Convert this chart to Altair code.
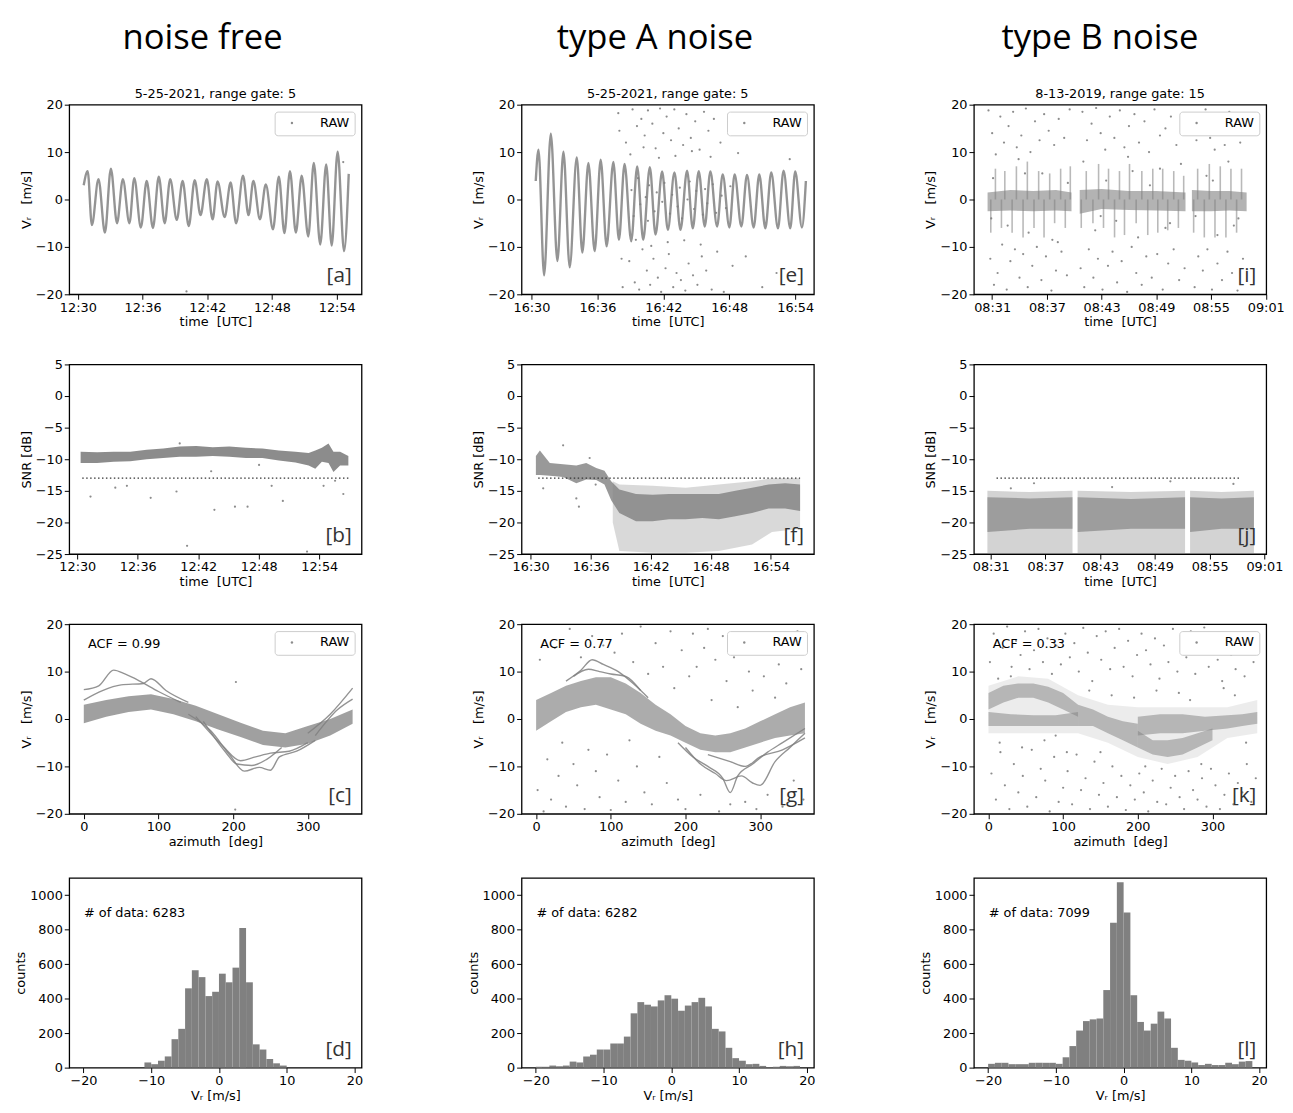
import altair as alt
import pandas as pd

W, H = 296, 192
GRAY = "#808080"

col_titles = ["noise free", "type A noise", "type B noise"]
col_title_dx = [14, 14, -2]
panel_titles = ["5-25-2021, range gate: 5", "5-25-2021, range gate: 5", "8-13-2019, range gate: 15"]
acf_labels = ["ACF = 0.99", "ACF = 0.77", "ACF = 0.33"]
ndata_labels = ["# of data: 6283", "# of data: 6282", "# of data: 7099"]
tags = [["[a]", "[b]", "[c]", "[d]"], ["[e]", "[f]", "[g]", "[h]"], ["[i]", "[j]", "[k]", "[l]"]]

time_ticks = [[30, 36, 42, 48, 54], [30, 36, 42, 48, 54], [31, 37, 43, 49, 55, 61]]
time_expr = ["'12:' + datum.value", "'16:' + datum.value",
             "datum.value < 60 ? '08:' + datum.value : '09:0' + (datum.value - 60)"]
vr_dom = [[29.2, 56.3], [29.1, 55.7], [29.0, 61.05]]
snr_dom = [[29.2, 58.2], [29.1, 58.3], [29.15, 61.2]]
az_dom = [-19.5, 372]
hist_dom = [-22.1, 21.05]
vr_ticks = [-20, -10, 0, 10, 20]
snr_ticks = [-25, -20, -15, -10, -5, 0, 5]
az_ticks = [0, 100, 200, 300]
cnt_ticks = [0, 200, 400, 600, 800, 1000]
hist_ticks = [-20, -10, 0, 10, 20]

# ---------------- panel a (Vr, noise free) ----------------
a_t = [30.54, 30.91, 31.30, 31.91, 32.51, 33.06, 33.63, 34.17, 34.78, 35.23, 35.84, 36.38, 36.96, 37.50, 38.05,
       38.56, 39.17, 39.71, 40.28, 40.83, 41.37, 41.95, 42.49, 42.95, 43.61, 44.16, 44.67, 45.31, 45.82, 46.27,
       46.88, 47.42, 48.09, 48.63, 49.15, 49.66, 50.21, 50.75, 51.36, 51.87, 52.47, 53.02, 53.53, 54.08, 54.68, 55.11]
a_v = [3.0, 6.0, -5.4, 4.3, -7.0, 6.5, -5.0, 4.3, -5.0, 4.5, -5.9, 3.9, -6.0, 4.8, -5.0, 4.3, -4.3, 3.9, -5.6, 4.1,
       -3.3, 4.3, -4.2, 3.8, -3.7, 3.6, -5.0, 5.0, -3.3, 3.9, -4.2, 3.2, -6.3, 4.8, -7.1, 6.0, -7.0, 5.0, -7.8, 7.7,
       -9.5, 7.4, -9.7, 10.1, -10.9, 5.4]
a_out_t = [40.07, 54.6]
a_out_v = [-19.4, 7.9]

# ---------------- panel e (Vr, type A) ----------------
e_t = [30.39, 30.64, 31.15, 31.76, 32.36, 32.91, 33.48, 34.12, 34.63, 35.18, 35.75, 36.30, 36.84, 37.45, 37.96,
       38.47, 39.08, 39.62, 40.17, 40.77, 41.29, 41.89, 42.41, 43.01, 43.56, 44.16, 44.68, 45.22, 45.77, 46.28,
       46.89, 47.40, 48.01, 48.49, 49.10, 49.61, 50.22, 50.73, 51.28, 51.82, 52.43, 52.94, 53.55, 54.00, 54.61, 54.97]
e_v = [3.9, 10.5, -16.0, 13.9, -13.0, 10.1, -14.3, 8.9, -11.2, 7.7, -10.9, 8.4, -9.9, 7.9, -8.5, 7.5, -8.8, 7.0,
       -8.5, 6.8, -7.4, 5.9, -6.4, 5.7, -6.4, 6.1, -6.1, 6.0, -5.7, 5.9, -5.7, 5.3, -5.9, 5.3, -5.7, 5.2, -5.9, 5.3,
       -6.1, 5.7, -6.1, 6.1, -6.1, 5.9, -5.9, 3.9]
e_out_t = [37.9, 38.3, 38.6, 38.9, 39.2, 39.4, 39.6, 39.8, 40.0, 40.1, 40.3, 40.5, 40.6, 40.8, 41.0, 41.1, 41.3,
           41.5, 41.7, 41.8, 42.0, 42.2, 42.3, 42.5, 42.7, 42.9, 43.0, 43.2, 43.4, 43.6, 43.8, 44.0, 44.1, 44.3,
           44.5, 44.7, 44.9, 45.1, 45.3, 45.5, 45.7, 45.9, 46.1, 46.4, 46.6, 46.9, 47.2, 47.5, 47.9, 48.3, 48.8,
           49.5, 50.4, 51.0, 52.3, 53.5, 39.0, 39.5, 40.2, 40.9, 41.6, 42.4, 43.1, 43.9, 44.6, 45.4, 46.3, 38.2,
           38.0, 39.1, 39.3, 39.7, 39.9, 40.4, 40.6, 40.7, 41.2, 41.4, 41.9, 42.1, 42.6, 42.8, 43.3, 43.5, 43.7,
           44.2, 44.4, 44.8, 45.0, 45.6, 45.8, 46.0, 46.5, 46.8, 47.3, 47.7, 48.1]
e_out_v = [18.2, -18.5, 12.0, -13.0, 19.0, -17.5, 15.5, -19.0, 17.0, -10.5, 13.5, -15.0, 18.8, -18.0, 16.0, -12.5,
           10.8, -16.5, 19.2, -19.5, 14.0, -14.5, 17.5, -11.5, 12.5, -18.5, 19.0, -15.5, 15.0, -17.0, 11.5, -19.2,
           18.0, -13.5, 13.0, -16.0, 16.5, -18.0, 10.5, -12.0, 18.5, -15.0, 14.5, -19.0, 17.0, -11.0, 12.0, -19.5,
           16.5, -14.0, 9.8, -12.0, 14.0, -18.5, -15.5, 8.5, 9.5, -8.5, 11.0, -9.8, 8.8, -9.0, 9.2, -8.6, 10.2,
           -9.5, 9.0, -12.5, 14.5, 2.0, -3.5, 4.5, -1.0, 0.5, -4.5, 3.0, -2.5, 1.5, -0.5, 3.5, -3.0, 1.0, -1.5,
           2.5, -4.0, 0.0, 3.8, -2.0, 1.8, -3.2, 2.2, -0.8, 3.2, -2.8, 0.8, -1.8, 2.8]

# ---------------- panel i (Vr, type B) ----------------
i_band_t = [30.5, 33.0, 35.5, 38.0, 39.7, 40.6, 43.0, 46.0, 49.0, 52.2, 52.9, 55.0, 57.0, 58.9]
i_band_seg = ["1", "1", "1", "1", "1", "2", "2", "2", "2", "2", "3", "3", "3", "3"]
i_band_lo = [-2.5, -2.3, -2.5, -2.3, -2.5, -3.0, -2.0, -2.2, -2.3, -2.5, -2.5, -2.5, -2.3, -2.5]
i_band_hi = [1.5, 2.0, 1.8, 2.0, 1.5, 2.0, 2.2, 1.8, 1.8, 1.5, 2.0, 1.8, 1.8, 1.5]
i_spike_t = [31.36, 32.39, 33.66, 34.86, 36.10, 37.31, 38.51, 39.57, 30.85, 32.02, 33.19, 34.39, 35.59, 36.69,
             37.85, 39.02, 41.32, 42.67, 43.76, 44.96, 46.06, 47.41, 48.61, 49.70, 50.91, 52.00, 40.77, 42.05,
             43.21, 44.42, 45.51, 46.79, 48.06, 49.16, 50.25, 51.42, 53.53, 54.81, 56.01, 57.18, 58.34, 53.09,
             54.26, 55.43, 56.63, 57.80]
i_spike_v = [6.5, 6.0, 7.0, 8.0, 6.0, 5.5, 6.5, 7.0, -7.0, -6.0, -7.0, -8.0, -6.0, -8.0, -5.0, -6.0, 6.0, 7.5, 6.5,
             6.0, 7.5, 6.0, 6.5, 6.5, 6.0, 5.0, -6.0, -5.0, -6.0, -8.0, -7.5, -5.0, -7.5, -7.0, -6.5, -6.0, 6.5,
             7.5, 7.0, 6.5, 6.5, -7.0, -8.0, -8.0, -8.0, -7.0]
i_out_t = [30.6, 30.8, 31.0, 31.2, 31.4, 31.6, 31.9, 32.1, 32.3, 32.6, 32.8, 33.0, 33.3, 33.5, 33.7, 34.0, 34.2,
           34.4, 34.7, 34.9, 35.2, 35.4, 35.7, 35.9, 36.2, 36.4, 36.7, 36.9, 37.2, 37.5, 37.8, 38.0, 38.3, 38.6,
           38.9, 39.2, 39.5, 40.7, 40.9, 41.1, 41.4, 41.6, 41.9, 42.1, 42.4, 42.6, 42.9, 43.1, 43.4, 43.7, 43.9,
           44.2, 44.4, 44.7, 45.0, 45.2, 45.5, 45.8, 46.0, 46.3, 46.6, 46.8, 47.1, 47.4, 47.7, 47.9, 48.2, 48.5,
           48.8, 49.1, 49.4, 49.7, 50.0, 50.3, 50.6, 50.9, 51.2, 51.5, 51.8, 52.1, 53.0, 53.2, 53.4, 53.6, 53.9,
           54.1, 54.4, 54.6, 54.9, 55.1, 55.4, 55.7, 55.9, 56.2, 56.5, 56.8, 57.0, 57.3, 57.6, 57.9, 58.2, 58.5,
           58.8, 31.1, 32.7, 33.9, 35.0, 36.5, 37.6, 39.3, 41.0, 42.3, 43.5, 44.6, 45.9, 47.0, 48.3, 49.4, 50.5,
           51.7, 53.3, 54.5, 55.7, 56.9, 58.0, 30.9, 34.6, 38.2, 42.9, 46.4, 50.0, 55.2, 57.5]
i_out_v = [18.8, -12.5, 14.0, -18.0, 9.5, -15.5, 17.5, -9.5, 12.0, -19.0, 15.5, -13.0, 18.5, -10.5, 11.0, -16.5,
           13.5, -11.5, 19.2, -18.5, 10.0, -14.0, 16.5, -10.0, 12.5, -17.0, 18.0, -12.0, 14.5, -19.2, 11.5, -15.0,
           17.0, -11.0, 13.0, -16.0, 19.0, -14.5, 18.5, -18.5, 12.5, -10.5, 16.0, -16.5, 19.3, -12.5, 14.0, -19.0,
           10.5, -14.0, 17.5, -11.0, 13.0, -17.5, 18.8, -13.0, 11.0, -19.5, 15.5, -10.0, 18.0, -15.5, 12.0, -18.0,
           16.5, -12.0, 10.0, -16.5, 19.0, -11.5, 13.5, -19.0, 15.0, -13.5, 17.5, -10.5, 11.5, -17.0, 14.0, -14.5,
           17.0, -18.5, 12.5, -12.0, 15.5, -15.0, 19.0, -10.5, 13.0, -19.0, 10.5, -13.5, 16.5, -17.0, 11.5, -11.0,
           18.5, -15.5, 14.0, -19.2, 12.0, -12.5, 15.0, 4.5, -5.5, 8.5, -7.0, 5.5, -8.5, 3.5, 8.0, -6.5, 4.0, -4.5,
           9.0, -8.0, 3.0, 6.5, -5.0, 7.5, -3.5, 5.0, -7.5, 8.0, -4.0, -4.0, 5.5, -9.0, -3.5, 6.0, -6.0, 4.0, -5.5]

# ---------------- SNR panels b, f, j ----------------
b_band_t = [30.33, 31.97, 33.61, 35.25, 36.89, 38.52, 40.16, 41.80, 43.44, 45.08, 46.72, 48.36, 50.00, 51.64,
            52.95, 53.61, 54.26, 54.92, 55.41, 56.07, 56.89]
b_band_lo = [-10.6, -10.6, -10.4, -10.3, -10.0, -9.8, -9.6, -9.6, -9.5, -9.6, -9.8, -9.8, -10.2, -10.5, -11.0,
             -11.5, -10.4, -10.6, -12.0, -11.0, -11.0]
b_band_hi = [-8.8, -8.9, -8.8, -8.8, -8.5, -8.3, -8.0, -7.9, -8.1, -8.0, -8.2, -8.3, -8.6, -8.8, -9.0, -8.6,
             -8.2, -7.5, -8.8, -8.8, -9.5]
b_out_t = [31.31, 33.77, 34.92, 37.28, 39.84, 40.89, 43.28, 43.60, 45.64, 46.89, 48.03, 49.28, 50.39, 52.79,
           56.39, 55.57, 54.43, 40.16]
b_out_v = [-15.9, -14.5, -14.2, -16.1, -15.1, -23.7, -11.9, -18.0, -17.5, -17.5, -10.9, -14.2, -16.6, -24.6,
           -15.5, -13.4, -14.2, -7.5]
b_thr = [30.49, 56.89, -13.0]

f_band_t = [30.53, 30.93, 31.92, 33.25, 34.57, 35.56, 36.56, 37.38, 38.05, 38.87, 40.53, 42.19, 43.84, 45.50,
            47.15, 48.81, 50.46, 52.12, 53.77, 55.43, 56.92]
f_band_lo = [-12.5, -12.5, -12.6, -12.8, -13.8, -13.2, -13.3, -14.0, -16.5, -18.5, -19.8, -19.8, -19.5, -19.5,
             -19.3, -19.5, -19.0, -18.5, -17.8, -17.8, -18.2]
f_band_hi = [-9.5, -8.6, -10.6, -10.8, -11.0, -10.6, -11.4, -11.8, -13.5, -14.8, -15.5, -15.6, -15.5, -15.5,
             -15.5, -15.5, -15.0, -14.5, -14.0, -13.8, -14.0]
f_outer_t = [38.21, 38.87, 42.19, 45.50, 48.81, 52.12, 54.11, 56.92]
f_outer_lo = [-20.0, -24.5, -24.8, -24.8, -24.5, -23.5, -21.5, -21.0]
f_outer_hi = [-13.5, -14.0, -14.2, -14.5, -14.0, -13.5, -13.0, -13.0]
f_out_t = [31.26, 34.57, 34.83, 33.25, 35.9, 36.5]
f_out_v = [-14.6, -16.2, -17.5, -7.8, -9.8, -14.0]
f_thr = [30.76, 56.92, -13.0]

j_band_t = [30.63, 35.3, 39.96, 40.52, 46.4, 52.30, 52.85, 56.3, 59.85]
j_band_seg = ["1", "1", "1", "2", "2", "2", "3", "3", "3"]
j_in_lo = [-21.5, -21.0, -21.0, -21.5, -21.0, -21.0, -21.5, -21.0, -21.0]
j_in_hi = [-16.0, -16.2, -16.0, -16.0, -16.3, -16.0, -16.0, -16.2, -16.0]
j_outer_lo = [-24.9, -24.9, -24.9, -24.9, -24.9, -24.9, -24.9, -24.9, -24.9]
j_outer_hi = [-15.0, -15.2, -15.0, -15.0, -15.2, -15.0, -15.0, -15.2, -15.0]
j_out_t = [35.74, 50.69, 57.6, 44.3, 33.2]
j_out_v = [-13.8, -13.5, -13.9, -14.4, -14.6]
j_thr = [31.63, 58.48, -13.0]

# ---------------- azimuth panels c, g, k ----------------
c_band_az = [0, 30, 60, 90, 120, 150, 180, 210, 240, 270, 300, 330, 360]
c_band_lo = [-0.9, 0.5, 1.5, 2.0, 1.0, -0.5, -2.2, -3.8, -5.5, -6.0, -5.2, -3.5, -1.0]
c_band_hi = [3.0, 4.0, 4.8, 5.2, 4.2, 2.8, 1.0, -0.8, -2.5, -3.0, -1.5, 0.0, 2.0]
c_tr_id = ["1", "1", "1", "1", "1", "1", "1",
           "2", "2", "2", "2", "2", "2", "2",
           "3", "3", "3", "3", "3", "3", "3", "3", "3",
           "4", "4", "4", "4", "4", "4", "4",
           "5", "5", "5", "5", "5", "5",
           "6", "6", "6",
           "7", "7", "7"]
c_tr_az = [0, 20, 40, 55, 75, 100, 130,
           0, 25, 50, 80, 90, 110, 140,
           140, 170, 195, 215, 235, 250, 262, 285, 310,
           150, 185, 210, 230, 250, 275, 300,
           160, 190, 205, 225, 245, 265,
           300, 330, 360,
           310, 340, 360]
c_tr_v = [6.2, 7.0, 10.3, 9.5, 8.0, 5.8, 3.5,
          4.0, 6.0, 7.2, 7.5, 8.5, 6.0, 3.5,
          1.0, -2.5, -7.5, -11.0, -10.2, -10.8, -8.0, -6.8, -4.5,
          0.5, -5.5, -8.8, -8.0, -7.2, -6.8, -5.0,
          -0.5, -7.0, -9.5, -9.8, -8.5, -6.0,
          -3.0, 1.0, 6.5,
          -3.5, 2.0, 4.2]
c_out_az = [203.7, 202.8]
c_out_v = [7.8, -19.1]

g_band_az = [0, 20, 40, 60, 80, 100, 120, 140, 160, 180, 200, 220, 240, 260, 280, 300, 320, 340, 360]
g_band_lo = [-2.5, -0.5, 1.5, 2.5, 3.0, 2.0, 1.0, -1.0, -2.5, -3.5, -5.0, -6.5, -7.0, -7.0, -6.0, -5.0, -4.0,
             -3.5, -3.0]
g_band_hi = [4.0, 5.5, 7.0, 8.0, 8.8, 8.8, 7.5, 5.5, 3.0, 1.0, -1.5, -3.0, -3.5, -3.0, -2.0, -0.5, 1.0, 2.5, 3.5]
g_tr_id = ["1", "1", "1", "1", "1", "1", "1", "1", "1", "1",
           "2", "2", "2", "2", "2", "2", "2", "2", "2", "2",
           "3", "3", "3", "3", "3", "3",
           "4", "4", "4", "4", "4", "4", "4",
           "5", "5", "5", "5", "5", "5"]
g_tr_az = [190, 210, 230, 250, 260, 270, 290, 310, 330, 360,
           200, 220, 240, 255, 275, 290, 300, 320, 340, 360,
           230, 260, 280, 300, 330, 360,
           40, 60, 75, 90, 110, 130, 150,
           50, 70, 85, 100, 120, 140]
g_tr_v = [-5.0, -8.0, -10.0, -12.5, -15.5, -12.0, -9.5, -7.0, -5.0, -2.0,
          -6.0, -9.5, -11.5, -13.0, -12.0, -13.5, -14.0, -9.0, -6.0, -3.0,
          -7.5, -9.0, -10.0, -8.0, -6.5, -4.0,
          8.0, 10.3, 12.5, 11.5, 10.0, 7.5, 4.5,
          9.0, 10.5, 10.0, 9.5, 9.0, 6.0]
g_out_az = [2, 5, 10, 15, 20, 25, 30, 35, 40, 45, 50, 55, 60, 65, 70, 75, 80, 85, 90, 95, 100, 105, 110, 115, 120,
            125, 130, 135, 140, 145, 150, 155, 160, 165, 170, 175, 180, 185, 190, 195, 200, 205, 210, 215, 220,
            225, 230, 235, 240, 245, 250, 255, 260, 265, 270, 275, 280, 285, 290, 295, 300, 305, 310, 315, 320,
            325, 330, 335, 340, 345, 350, 355, 358]
g_out_v = [-15.0, 12.5, -19.5, -8.5, -17.0, 15.0, -12.0, -5.0, -18.5, 19.0, -9.5, -14.0, 13.0, -19.0, -6.5, 17.5,
           -11.0, -16.5, 15.5, -7.5, -19.2, 14.0, -13.0, 18.0, -17.5, -4.5, 12.0, -10.0, 19.5, -15.5, 9.5, -18.0,
           16.0, -8.0, 11.0, -13.5, 18.5, 6.5, -17.0, 14.5, -19.0, 9.0, 18.0, 11.0, -16.0, 15.0, 19.0, 4.0, 12.5,
           -19.5, 17.5, 8.0, -18.0, 13.0, 2.5, 16.5, -17.5, 10.0, 6.0, -19.0, 14.0, 9.0, -16.0, 17.0, 4.5, 11.5,
           -18.5, 7.5, 15.5, -13.0, 18.5, 10.5, -17.0]

k_area_az = [0, 20, 40, 60, 80, 100, 120, 0, 30, 60, 90, 120, 120, 140, 160, 180, 200,
             200, 230, 260, 290, 320, 340, 360, 200, 220, 240, 260, 280, 300]
k_area_seg = ["up", "up", "up", "up", "up", "up", "up", "lo", "lo", "lo", "lo", "lo",
              "mid", "mid", "mid", "mid", "mid", "ru", "ru", "ru", "ru", "ru", "ru", "ru",
              "rl", "rl", "rl", "rl", "rl", "rl"]
k_area_lo = [2.0, 3.5, 4.5, 4.5, 3.5, 2.0, 0.5, -1.5, -1.5, -1.5, -1.5, -1.5, -1.5, -1.5, -3.0, -4.5, -6.0,
             -3.5, -3.0, -3.0, -2.5, -2.0, -1.5, -1.0, -6.0, -7.5, -8.0, -7.5, -6.0, -4.5]
k_area_hi = [5.5, 7.0, 7.5, 7.5, 6.8, 5.5, 3.0, 1.5, 1.0, 0.8, 0.8, 1.5, 3.0, 2.0, 0.5, -0.5, -1.0,
             0.5, 1.0, 1.0, 0.5, 0.8, 1.0, 1.5, -2.5, -4.5, -4.5, -4.0, -3.0, -2.0]
k_halo_az = [0, 40, 80, 120, 160, 200, 240, 280, 320, 360]
k_halo_lo = [-3.0, -3.0, -3.0, -3.0, -5.0, -8.0, -9.5, -8.0, -4.0, -3.0]
k_halo_hi = [7.0, 9.0, 8.5, 5.0, 3.0, 2.5, 2.5, 2.5, 2.5, 4.0]
k_out_az = [2, 4, 7, 10, 13, 16, 19, 22, 25, 28, 31, 34, 37, 40, 43, 46, 49, 52, 55, 58, 61, 64, 67, 70, 73, 76,
            79, 82, 85, 88, 91, 94, 97, 100, 103, 106, 109, 112, 115, 118, 121, 124, 127, 130, 133, 136, 139, 142,
            145, 148, 151, 154, 157, 160, 163, 166, 169, 172, 175, 178, 181, 184, 187, 190, 193, 196, 199, 202,
            205, 208, 211, 214, 217, 220, 223, 226, 229, 232, 235, 238, 241, 244, 247, 250, 253, 256, 259, 262,
            265, 268, 271, 274, 277, 280, 283, 286, 289, 292, 295, 298, 301, 304, 307, 310, 313, 316, 319, 322,
            325, 328, 331, 334, 337, 340, 343, 346, 349, 352, 355, 358,
            15, 45, 75, 105, 135, 165, 195, 225, 255, 285, 315, 345, 30, 90, 150, 210, 270, 330]
k_out_v = [12.0, -11.5, 18.0, -17.0, 8.5, -7.0, 15.0, -14.0, 19.5, -19.0, 11.0, -9.5, 16.5, -15.5, 13.5, -12.0,
           18.5, -18.5, 10.5, -6.5, 14.5, -16.5, 19.0, -10.5, 12.0, -13.0, 17.0, -19.5, 9.5, -8.0, 15.5, -17.5,
           11.5, -14.5, 18.0, -11.0, 13.0, -18.0, 16.0, -7.5, 10.0, -15.0, 19.2, -12.5, 14.0, -19.0, 8.0, -9.0,
           17.5, -16.0, 12.5, -13.5, 18.5, -18.5, 10.5, -10.0, 15.0, -16.5, 19.0, -12.0, 11.0, -19.2, 16.5, -14.0,
           9.0, -17.0, 13.5, -11.5, 18.0, -15.5, 14.5, -19.5, 11.5, -13.0, 17.0, -17.5, 8.5, -10.5, 15.5, -18.0,
           12.0, -14.5, 19.0, -12.0, 10.0, -16.5, 16.0, -19.0, 13.0, -11.0, 18.5, -15.0, 9.5, -17.0, 14.0, -12.5,
           19.3, -18.5, 11.0, -10.5, 16.5, -14.0, 12.5, -19.0, 8.0, -16.0, 17.5, -11.5, 13.5, -18.0, 10.5, -13.5,
           18.0, -15.5, 9.0, -9.5, 15.0, -17.5, 12.0, -12.5,
           -5.0, -6.0, -4.5, -7.0, 6.0, 5.0, 4.5, 6.0, 5.5, -9.5, 6.5, -5.0, 9.0, -3.5, -7.0, -10.0, 4.0, 5.0]

# ---------------- histograms d, h, l (1 m/s bins from -20 to 20) ----------------
bin_lo = [-20, -19, -18, -17, -16, -15, -14, -13, -12, -11, -10, -9, -8, -7, -6, -5, -4, -3, -2, -1,
          0, 1, 2, 3, 4, 5, 6, 7, 8, 9, 10, 11, 12, 13, 14, 15, 16, 17, 18, 19]
bin_hi = [-19, -18, -17, -16, -15, -14, -13, -12, -11, -10, -9, -8, -7, -6, -5, -4, -3, -2, -1, 0,
          1, 2, 3, 4, 5, 6, 7, 8, 9, 10, 11, 12, 13, 14, 15, 16, 17, 18, 19, 20]
d_counts = [0, 0, 0, 0, 0, 0, 0, 0, 0, 30, 20, 40, 65, 165, 225, 460, 565, 525, 415, 440,
            545, 495, 580, 810, 495, 135, 105, 50, 25, 12, 0, 0, 0, 0, 0, 0, 0, 0, 0, 0]
h_counts = [5, 5, 12, 8, 12, 35, 30, 65, 75, 105, 105, 140, 140, 180, 315, 380, 365, 355, 390, 420,
            400, 330, 360, 380, 405, 355, 225, 210, 115, 55, 40, 20, 22, 10, 3, 5, 10, 8, 10, 0]
l_counts = [22, 28, 28, 20, 20, 20, 28, 28, 28, 28, 22, 60, 125, 215, 270, 280, 285, 450, 840, 1075,
            900, 420, 265, 215, 255, 325, 285, 115, 45, 40, 30, 15, 22, 15, 15, 28, 20, 35, 38, 0]


# ======================= helpers =======================
def df_pts(t, v):
    return pd.DataFrame([{"t": a, "v": b, "series": "RAW"} for a, b in zip(t, v)])


def df_band(t, lo, hi, seg=None):
    if seg is None:
        seg = ["1"] * len(t)
    return pd.DataFrame([{"t": a, "lo": b, "hi": c, "seg": s} for a, b, c, s in zip(t, lo, hi, seg)])


def xq(field, domain, ticks, title, expr=None):
    ax = dict(values=ticks, title=title)
    if expr:
        ax["labelExpr"] = expr
    return alt.X(field, type="quantitative", scale=alt.Scale(domain=domain, nice=False, zero=False),
                 axis=alt.Axis(**ax))


def yq(field, domain, ticks, title, fmt=None):
    ax = dict(values=ticks, title=title)
    if fmt:
        ax["format"] = fmt
    return alt.Y(field, type="quantitative", scale=alt.Scale(domain=domain, nice=False, zero=False),
                 axis=alt.Axis(**ax))


LEG = alt.Legend(title=None, orient="top-right", offset=7, padding=5, fillColor="white",
                 strokeColor="#cccccc", cornerRadius=3, labelFont="DejaVu Sans", labelFontSize=13,
                 labelColor="black", symbolType="circle", symbolSize=6, symbolFillColor=GRAY,
                 symbolStrokeWidth=0, labelOffset=22, symbolOffset=6)


def points(df, X, Y, legend=True, size=5):
    enc = dict(x=X, y=Y)
    if legend:
        enc["color"] = alt.Color("series:N", scale=alt.Scale(domain=["RAW"], range=[GRAY]), legend=LEG)
        return alt.Chart(df).mark_circle(size=size, opacity=0.9).encode(**enc)
    return alt.Chart(df).mark_circle(size=size, opacity=0.9, color=GRAY).encode(**enc)


def band(df, X, Y, opacity):
    return alt.Chart(df).mark_area(color=GRAY, opacity=opacity).encode(
        x=X, y=Y, y2="hi:Q", detail="seg:N")


def text(label, x, y, align, size=13, font="DejaVu Sans", color="black"):
    return alt.Chart(pd.DataFrame({"s": [label]})).mark_text(
        align=align, baseline="middle", fontSize=size, font=font, color=color).encode(
        text="s:N", x=alt.value(x), y=alt.value(y))


def tag(label):
    return text(label, W - 10, H - 18, "right", 21, "Open Sans", "#333333")


def threshold(vals, X0, Y):
    df = pd.DataFrame([{"t0": vals[0], "t1": vals[1], "v": vals[2]}])
    return alt.Chart(df).mark_rule(color="#333333", strokeDash=[1.5, 2.5], strokeWidth=1.3).encode(
        x=X0, x2="t1:Q", y=Y)


NB = "\u00a0"
VR_T = "Vᵣ" + NB + NB + " [m/s]"
TIME_T = "time" + NB + " [UTC]"
AZ_T = "azimuth" + NB + " [deg]"


def ptitle(s):
    return alt.TitleParams(s, fontSize=13, font="DejaVu Sans", fontWeight="normal", offset=-2, color="black")


# ======================= row 1 : Vr time series =======================
def vr_panel(col, trace=None, tr_line=None, extra=None):
    X = xq("t", vr_dom[col], time_ticks[col], TIME_T, time_expr[col])
    Y = yq("v", [-20, 20], vr_ticks, VR_T)
    layers = []
    if extra:
        layers += extra(X)
    if tr_line is not None:
        layers.append(alt.Chart(tr_line).mark_line(color="#888888", strokeWidth=2.4, interpolate="monotone",
                                                   opacity=0.9).encode(x=X, y=Y))
    layers.append(points(trace, X, Y))
    layers.append(tag(tags[col][0]))
    return alt.layer(*layers).properties(width=W, height=H, title=ptitle(panel_titles[col]))


pa = vr_panel(0, df_pts(a_out_t, a_out_v), df_pts(a_t, a_v))
pe = vr_panel(1, df_pts(e_out_t, e_out_v), df_pts(e_t, e_v))


def i_extra(X):
    Yb = yq("lo", [-20, 20], vr_ticks, VR_T)
    Ys = yq("v", [-20, 20], vr_ticks, VR_T)
    sp = alt.Chart(df_pts(i_spike_t, i_spike_v)).mark_rule(color=GRAY, strokeWidth=1.6, opacity=0.55).encode(
        x=X, y=Ys, y2=alt.datum(0))
    return [band(df_band(i_band_t, i_band_lo, i_band_hi, i_band_seg), X, Yb, 0.6), sp]


pi = vr_panel(2, df_pts(i_out_t, i_out_v), None, i_extra)


# ======================= row 2 : SNR =======================
def snr_panel(col, bands, pts, thr):
    X = xq("t", snr_dom[col], time_ticks[col], TIME_T, time_expr[col])
    X0 = xq("t0", snr_dom[col], time_ticks[col], TIME_T, time_expr[col])
    Yb = yq("lo", [-25, 5], snr_ticks, "SNR [dB]")
    Y = yq("v", [-25, 5], snr_ticks, "SNR [dB]")
    layers = [band(d, X, Yb, o) for d, o in bands]
    layers.append(points(pts, X, Y, legend=False))
    layers.append(threshold(thr, X0, Y))
    layers.append(tag(tags[col][1]))
    return alt.layer(*layers).properties(width=W, height=H)


pb = snr_panel(0, [(df_band(b_band_t, b_band_lo, b_band_hi), 0.9)], df_pts(b_out_t, b_out_v), b_thr)
pf = snr_panel(1, [(df_band(f_outer_t, f_outer_lo, f_outer_hi), 0.3),
                   (df_band(f_band_t, f_band_lo, f_band_hi), 0.8)], df_pts(f_out_t, f_out_v), f_thr)
pj = snr_panel(2, [(df_band(j_band_t, j_outer_lo, j_outer_hi, j_band_seg), 0.35),
                   (df_band(j_band_t, j_in_lo, j_in_hi, j_band_seg), 0.65)], df_pts(j_out_t, j_out_v), j_thr)


# ======================= row 3 : Vr vs azimuth =======================
def az_panel(col, bands, traces, pts):
    X = xq("t", az_dom, az_ticks, AZ_T)
    Yb = yq("lo", [-20, 20], vr_ticks, VR_T)
    Y = yq("v", [-20, 20], vr_ticks, VR_T)
    layers = [band(d, X, Yb, o) for d, o in bands]
    if traces is not None:
        layers.append(alt.Chart(traces).mark_line(color=GRAY, strokeWidth=1.4, interpolate="monotone",
                                                  opacity=0.85).encode(x=X, y=Y, detail="id:N"))
    layers.append(points(pts, X, Y))
    layers.append(text(acf_labels[col], 19, 20, "left"))
    layers.append(tag(tags[col][2]))
    return alt.layer(*layers).properties(width=W, height=H)


def df_tr(ids, az, v):
    return pd.DataFrame([{"id": a, "t": b, "v": c} for a, b, c in zip(ids, az, v)])


pc = az_panel(0, [(df_band(c_band_az, c_band_lo, c_band_hi), 0.75)], df_tr(c_tr_id, c_tr_az, c_tr_v),
              df_pts(c_out_az, c_out_v))
pg = az_panel(1, [(df_band(g_band_az, g_band_lo, g_band_hi), 0.65)], df_tr(g_tr_id, g_tr_az, g_tr_v),
              df_pts(g_out_az, g_out_v))
pk = az_panel(2, [(df_band(k_halo_az, k_halo_lo, k_halo_hi), 0.15),
                  (df_band(k_area_az, k_area_lo, k_area_hi, k_area_seg), 0.5)], None,
              df_pts(k_out_az, k_out_v))


# ======================= row 4 : histograms =======================
def hist_panel(col, counts):
    df = pd.DataFrame([{"lo": a, "hi": b, "n": c} for a, b, c in zip(bin_lo, bin_hi, counts)])
    X = xq("lo", hist_dom, hist_ticks, "Vᵣ [m/s]")
    Y = yq("n", [0, 1100], cnt_ticks, "counts", fmt="d")
    bars = alt.Chart(df).mark_bar(color=GRAY).encode(x=X, x2="hi:Q", y=Y, y2=alt.datum(0))
    return alt.layer(bars, text(ndata_labels[col], 15, 35, "left"), tag(tags[col][3])).properties(
        width=W, height=H)


pd_ = hist_panel(0, d_counts)
ph = hist_panel(1, h_counts)
pl = hist_panel(2, l_counts)


def column(i, panels):
    return alt.vconcat(*panels, spacing=28,
                       title=alt.TitleParams(col_titles[i], fontSize=35, font="Open Sans", fontWeight="normal",
                                             anchor="middle", offset=32, dx=col_title_dx[i], color="black")
                       ).resolve_scale(color="independent")


chart = alt.hconcat(column(0, [pa, pb, pc, pd_]), column(1, [pe, pf, pg, ph]), column(2, [pi, pj, pk, pl]),
                    spacing=104).resolve_scale(color="independent").properties(
    padding={"left": 6, "top": 6, "right": 0, "bottom": 0})

chart = chart.configure(font="DejaVu Sans").configure_axis(
    labelFont="DejaVu Sans", titleFont="DejaVu Sans", labelFontSize=13, titleFontSize=13,
    labelColor="black", titleColor="black", tickColor="black", tickSize=5, tickWidth=1,
    domain=False, grid=False, titleFontWeight="normal", labelFlush=False, labelOverlap=False,
    labelPadding=2, titlePadding=2
).configure_view(stroke="black", strokeWidth=1.3)

chart.save("out.html", embed_options={"renderer": "svg", "actions": False})
